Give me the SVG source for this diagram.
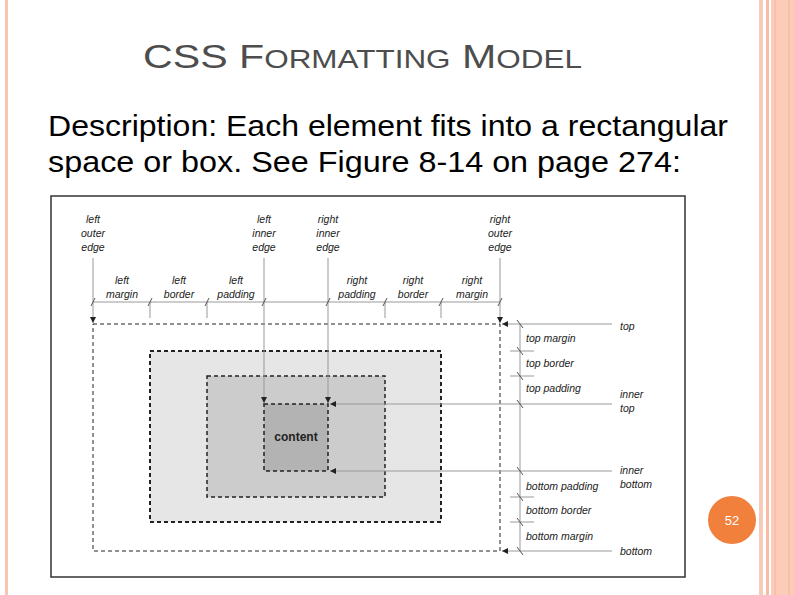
<svg xmlns="http://www.w3.org/2000/svg" width="794" height="595" viewBox="0 0 794 595">
<defs>
<style>
.l{font-family:"Liberation Sans",Arial,sans-serif;font-style:italic;font-size:10.5px;fill:#222;text-anchor:middle}
.r{font-family:"Liberation Sans",Arial,sans-serif;font-style:italic;font-size:10.5px;fill:#222}
.g{stroke:#999;stroke-width:1;fill:none}
.t{stroke:#555;stroke-width:1}
</style>
<marker id="a" viewBox="0 0 6 6" refX="6" refY="3" markerWidth="6" markerHeight="6" orient="auto"><path d="M0,0L6,3L0,6z" fill="#222"/></marker>
</defs>
<rect width="794" height="595" fill="#fff"/>
<rect x="5" y="0" width="3" height="595" fill="#f7c5b0"/>
<rect x="759" y="0" width="4" height="595" fill="#f7cbb8"/>
<rect x="766" y="0" width="3" height="595" fill="#f8bca5"/>
<rect x="771" y="0" width="23" height="595" fill="#fcccb8"/>
<line x1="775" y1="0" x2="775" y2="595" stroke="#f4b49b"/>
<line x1="789" y1="0" x2="789" y2="595" stroke="#f4b49b"/>
<text x="143" y="68" font-family="Liberation Sans,Arial,sans-serif" font-size="34" fill="#4d4d4d" textLength="439" lengthAdjust="spacingAndGlyphs">CSS F<tspan font-size="26">ORMATTING</tspan> M<tspan font-size="26">ODEL</tspan></text>
<text font-family="Liberation Sans,Arial,sans-serif" font-size="29" fill="#000"><tspan x="48" y="136" textLength="680" lengthAdjust="spacingAndGlyphs">Description: Each element fits into a rectangular</tspan><tspan x="48" y="172" textLength="633" lengthAdjust="spacingAndGlyphs">space or box.  See Figure 8-14 on page 274:</tspan></text>
<g id="figure">
<rect x="51" y="196" width="634" height="381" fill="#fff" stroke="#333" stroke-width="1.5"/>
<g id="boxes">
<rect x="93" y="324" width="407" height="227" fill="#fff" stroke="#222" stroke-dasharray="4,3"/>
<rect x="150" y="351" width="291" height="171" fill="#e6e6e6" stroke="#222" stroke-width="2" stroke-dasharray="4,3"/>
<rect x="207" y="376" width="178" height="121" fill="#cccccc" stroke="#222" stroke-width="1.5" stroke-dasharray="4,3"/>
<rect x="264" y="404" width="64" height="67" fill="#b3b3b3" stroke="#222" stroke-width="1.5" stroke-dasharray="4,3"/>
<text x="296" y="441" font-family="Liberation Sans Narrow,Liberation Sans,sans-serif" font-weight="bold" font-size="12" fill="#222" text-anchor="middle">content</text>
</g>
<g id="connectors">
<line class="g" x1="93" y1="258" x2="93" y2="323" marker-end="url(#a)"/>
<line class="g" x1="264" y1="258" x2="264" y2="403" marker-end="url(#a)"/>
<line class="g" x1="328" y1="258" x2="328" y2="403" marker-end="url(#a)"/>
<line class="g" x1="500" y1="258" x2="500" y2="323" marker-end="url(#a)"/>
<line class="g" x1="93" y1="302" x2="500" y2="302"/>
<line class="g" x1="150" y1="302" x2="150" y2="318"/>
<line class="g" x1="207" y1="302" x2="207" y2="318"/>
<line class="g" x1="385" y1="302" x2="385" y2="318"/>
<line class="g" x1="441" y1="302" x2="441" y2="318"/>
<g class="t">
<line x1="91" y1="306" x2="95" y2="298"/><line x1="148" y1="306" x2="152" y2="298"/><line x1="205" y1="306" x2="209" y2="298"/><line x1="262" y1="306" x2="266" y2="298"/>
<line x1="326" y1="306" x2="330" y2="298"/><line x1="383" y1="306" x2="387" y2="298"/><line x1="439" y1="306" x2="443" y2="298"/><line x1="498" y1="306" x2="502" y2="298"/>
</g>
<line class="g" x1="520" y1="324" x2="520" y2="551"/>
<line class="g" x1="612" y1="324" x2="502" y2="324" marker-end="url(#a)"/>
<line class="g" x1="612" y1="404" x2="330" y2="404" marker-end="url(#a)"/>
<line class="g" x1="612" y1="471" x2="330" y2="471" marker-end="url(#a)"/>
<line class="g" x1="612" y1="551" x2="502" y2="551" marker-end="url(#a)"/>
<line class="g" x1="510" y1="351" x2="534" y2="351"/>
<line class="g" x1="510" y1="376" x2="534" y2="376"/>
<line class="g" x1="510" y1="497" x2="534" y2="497"/>
<line class="g" x1="510" y1="522" x2="534" y2="522"/>
<g class="t">
<line x1="517" y1="320" x2="523" y2="328"/><line x1="517" y1="347" x2="523" y2="355"/><line x1="517" y1="372" x2="523" y2="380"/><line x1="517" y1="400" x2="523" y2="408"/>
<line x1="517" y1="467" x2="523" y2="475"/><line x1="517" y1="493" x2="523" y2="501"/><line x1="517" y1="518" x2="523" y2="526"/><line x1="517" y1="547" x2="523" y2="555"/>
</g>
</g>
<g id="labels">
<text class="l" x="93" y="223">left</text><text class="l" x="93" y="237">outer</text><text class="l" x="93" y="251">edge</text>
<text class="l" x="264" y="223">left</text><text class="l" x="264" y="237">inner</text><text class="l" x="264" y="251">edge</text>
<text class="l" x="328" y="223">right</text><text class="l" x="328" y="237">inner</text><text class="l" x="328" y="251">edge</text>
<text class="l" x="500" y="223">right</text><text class="l" x="500" y="237">outer</text><text class="l" x="500" y="251">edge</text>
<text class="l" x="122" y="284">left</text><text class="l" x="122" y="298">margin</text>
<text class="l" x="179" y="284">left</text><text class="l" x="179" y="298">border</text>
<text class="l" x="236" y="284">left</text><text class="l" x="236" y="298">padding</text>
<text class="l" x="357" y="284">right</text><text class="l" x="357" y="298">padding</text>
<text class="l" x="413" y="284">right</text><text class="l" x="413" y="298">border</text>
<text class="l" x="472" y="284">right</text><text class="l" x="472" y="298">margin</text>
<text class="r" x="620" y="330">top</text>
<text class="r" x="526" y="342">top margin</text>
<text class="r" x="526" y="367">top border</text>
<text class="r" x="526" y="392">top padding</text>
<text class="r" x="620" y="398">inner</text><text class="r" x="620" y="412">top</text>
<text class="r" x="620" y="474">inner</text><text class="r" x="620" y="488">bottom</text>
<text class="r" x="526" y="490">bottom padding</text>
<text class="r" x="526" y="514">bottom border</text>
<text class="r" x="526" y="540">bottom margin</text>
<text class="r" x="620" y="555">bottom</text>
</g>
</g>
<g id="page">
<circle cx="732" cy="520" r="24" fill="#f0803c"/>
<text x="732" y="525" font-family="Liberation Sans,Arial,sans-serif" font-size="13" fill="#fff" text-anchor="middle">52</text>
</g>
</svg>
